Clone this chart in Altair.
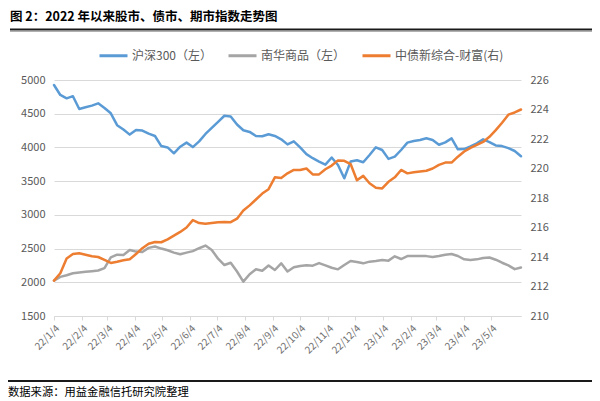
import altair as alt
import pandas as pd

title_text = "图 2：2022 年以来股市、债市、期市指数走势图"
source_text = "数据来源：用益金融信托研究院整理"
series_names = ["沪深300（左）", "南华商品（左）", "中债新综合-财富(右)"]
series_colors = ["#5B9BD5", "#A5A5A5", "#ED7D31"]

# weekly observation dates
dates = pd.date_range("2022-01-04", periods=75, freq="7D").strftime("%Y-%m-%d").tolist()

hs300 = [4926, 4778, 4728, 4760, 4570, 4595, 4620, 4654, 4585, 4506,
         4330, 4265, 4190, 4260, 4250, 4205, 4170, 4020, 4000, 3913,
         4011, 4071, 4005, 4090, 4200, 4290, 4380, 4470, 4460, 4340,
         4255, 4230, 4170, 4165, 4195, 4170, 4120, 4045, 4090, 4000,
         3900, 3840, 3790, 3745, 3850, 3740, 3542, 3790, 3810, 3780,
         3888, 4002, 3962, 3830, 3863, 3962, 4071, 4095, 4110, 4135,
         4110, 4040, 4075, 4135, 3972, 3975, 4015, 4060, 4120, 4080,
         4030, 4020, 3990, 3947, 3870]

nanhua = [2024, 2080, 2105, 2133, 2145, 2155, 2165, 2175, 2210, 2370,
          2410, 2405, 2480, 2455, 2450, 2510, 2530, 2500, 2475, 2440,
          2415, 2440, 2462, 2505, 2545, 2480, 2350, 2256, 2290, 2160,
          2009, 2120, 2192, 2172, 2250, 2182, 2281, 2160, 2222, 2242,
          2251, 2247, 2285, 2250, 2215, 2192, 2256, 2316, 2301, 2281,
          2306, 2316, 2331, 2321, 2385, 2345, 2388, 2390, 2390, 2388,
          2375, 2390, 2408, 2420, 2390, 2340, 2331, 2340, 2360, 2368,
          2335, 2290, 2250, 2195, 2220]

zhongzhai = [212.4, 212.9, 213.9, 214.2, 214.25, 214.15, 214.05, 214.0, 213.8, 213.6,
             213.68, 213.78, 213.85, 214.2, 214.6, 214.9, 215.02, 215.0, 215.2, 215.45,
             215.7, 216.0, 216.5, 216.3, 216.25, 216.3, 216.35, 216.37, 216.36, 216.6,
             217.15, 217.5, 217.9, 218.3, 218.6, 219.4, 219.35, 219.67, 219.9, 219.9,
             220.0, 219.6, 219.6, 219.95, 220.2, 220.55, 220.52, 220.3, 219.2, 219.5,
             219.0, 218.7, 218.65, 219.1, 219.4, 219.9, 219.67, 219.74, 219.8, 219.85,
             220.0, 220.25, 220.4, 220.4, 220.8, 221.15, 221.4, 221.6, 221.8, 222.15,
             222.6, 223.1, 223.65, 223.8, 224.0]

left_ticks = [1500, 2000, 2500, 3000, 3500, 4000, 4500, 5000]
right_ticks = [210, 212, 214, 216, 218, 220, 222, 224, 226]
x_tick_dates = ["2022-01-04", "2022-02-04", "2022-03-04", "2022-04-04", "2022-05-04",
                "2022-06-04", "2022-07-04", "2022-08-04", "2022-09-04", "2022-10-04",
                "2022-11-04", "2022-12-04", "2023-01-04", "2023-02-04", "2023-03-04",
                "2023-04-04", "2023-05-04"]
x_domain = ["2022-01-04", "2023-06-06"]

FONT = "Noto Sans CJK SC"
LABEL_COLOR = "#595959"


def dt(s):
    y, m, d = [int(p) for p in s.split("-")]
    return alt.DateTime(year=y, month=m, date=d, utc=True)


df_left = pd.DataFrame({
    "date": dates * 2,
    "series": [series_names[0]] * len(dates) + [series_names[1]] * len(dates),
    "value": hs300 + nanhua,
})
df_right = pd.DataFrame({
    "date": dates,
    "series": [series_names[2]] * len(dates),
    "value": zhongzhai,
})

x_enc = alt.X(
    "date:T",
    scale=alt.Scale(type="utc", domain=[dt(s) for s in x_domain], nice=False),
    axis=alt.Axis(
        values=[dt(s) for s in x_tick_dates],
        labelExpr="utcFormat(datum.value, '%y/%-m/%-d')",
        labelAngle=-45,
        labelFont=FONT,
        labelFontSize=10,
        labelColor="#707070",
        labelPadding=3,
        title=None,
        grid=False,
        domain=True,
        domainColor="#d9d9d9",
        ticks=True,
        tickColor="#d9d9d9",
        tickSize=4,
        labelOverlap=False,
    ),
)

color_enc = alt.Color(
    "series:N",
    scale=alt.Scale(domain=series_names, range=series_colors),
    legend=alt.Legend(
        orient="none",
        legendX=44,
        legendY=-40,
        direction="horizontal",
        title=None,
        symbolType="stroke",
        symbolStrokeWidth=3,
        symbolSize=784,
        labelFont=FONT,
        labelFontSize=12,
        labelColor=LABEL_COLOR,
        labelOffset=3,
        columnPadding=10,
    ),
)

left = alt.Chart(df_left).mark_line(strokeWidth=2.5, strokeJoin="round", strokeCap="round").encode(
    x=x_enc,
    y=alt.Y(
        "value:Q",
        scale=alt.Scale(domain=[1500, 5000], nice=False, zero=False),
        axis=alt.Axis(
            orient="left",
            values=left_ticks,
            format="d",
            title=None,
            grid=True,
            gridColor="#d9d9d9",
            gridWidth=1,
            domain=False,
            ticks=False,
            labelFont=FONT,
            labelFontSize=11,
            labelColor=LABEL_COLOR,
            labelPadding=9,
        ),
    ),
    color=color_enc,
    detail="series:N",
)

right = alt.Chart(df_right).mark_line(strokeWidth=2.5, strokeJoin="round", strokeCap="round").encode(
    x=x_enc,
    y=alt.Y(
        "value:Q",
        scale=alt.Scale(domain=[210, 226], nice=False, zero=False),
        axis=alt.Axis(
            orient="right",
            values=right_ticks,
            format="d",
            title=None,
            grid=False,
            domain=False,
            ticks=False,
            labelFont=FONT,
            labelFontSize=11,
            labelColor=LABEL_COLOR,
            labelPadding=9,
        ),
    ),
    color=color_enc,
)

one = pd.DataFrame({"t": [title_text], "s": [source_text]})

title_mark = alt.Chart(one).mark_text(
    align="left", baseline="middle", fontSize=12.5, fontWeight="bold", font=FONT, color="#000000"
).encode(text="t:N", x=alt.value(-44), y=alt.value(-63))

top_shadow = alt.Chart(one).mark_rule(color="#b0b0b0", strokeWidth=1).encode(
    x=alt.value(-44), x2=alt.value(538), y=alt.value(-48.5)
)

top_rule = alt.Chart(one).mark_rule(color="#1a1a1a", strokeWidth=2.2).encode(
    x=alt.value(-44), x2=alt.value(538), y=alt.value(-50.5)
)

bottom_rule = alt.Chart(one).mark_rule(color="#1a1a1a", strokeWidth=2).encode(
    x=alt.value(-46), x2=alt.value(538), y=alt.value(301)
)

source_mark = alt.Chart(one).mark_text(
    align="left", baseline="middle", fontSize=11.3, font=FONT, color="#000000"
).encode(text="s:N", x=alt.value(-46), y=alt.value(313))

chart = alt.layer(left, right, title_mark, top_shadow, top_rule, bottom_rule, source_mark).resolve_scale(
    y="independent"
).properties(
    width=467,
    height=236,
    padding={"left": 54, "top": 80, "right": 79, "bottom": 85},
    autosize=alt.AutoSizeParams(type="none"),
    background="white",
).configure_view(stroke=None)

chart.save("out.html", embed_options={"renderer": "svg", "actions": False})
